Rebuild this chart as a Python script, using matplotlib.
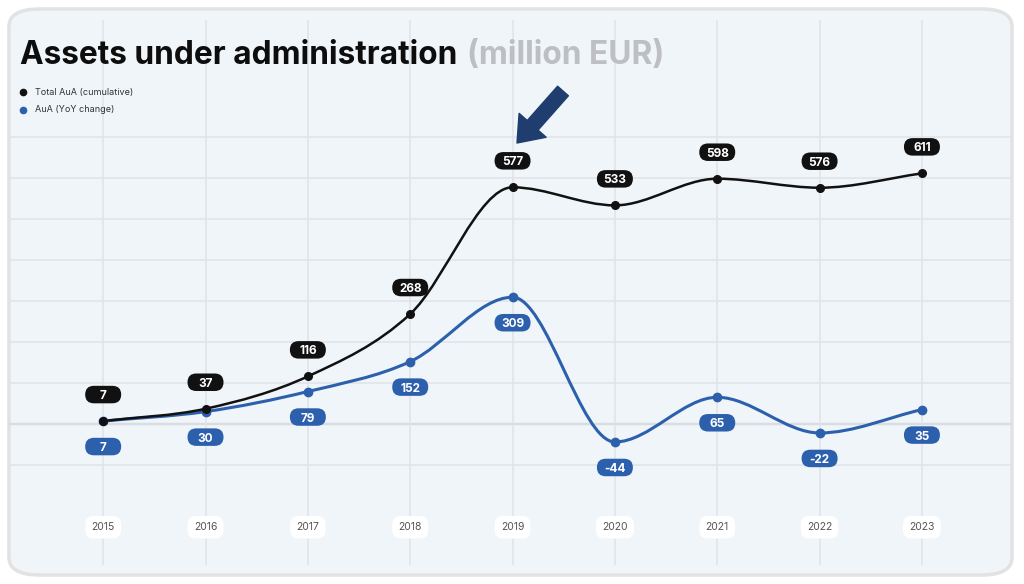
import numpy as np
import matplotlib.pyplot as plt
import matplotlib.transforms as mtransforms
from matplotlib.path import Path
from matplotlib.patches import PathPatch, FancyBboxPatch

# data
years = [2015, 2016, 2017, 2018, 2019, 2020, 2021, 2022, 2023]
total_aua = [7, 37, 116, 268, 577, 533, 598, 576, 611]
yoy_change = [7, 30, 79, 152, 309, -44, 65, -22, 35]
series_names = ['Total AuA (cumulative)', 'AuA (YoY change)']

BLACK = '#111111'
BLUE = '#2c60ad'
NAVY = '#1f3d6e'
CARD = '#eff5f9'


def monotone_path(xs, ys):
    # monotone cubic (Fritsch-Carlson) as bezier segments
    xs = np.asarray(xs, float)
    ys = np.asarray(ys, float)
    h = np.diff(xs)
    d = np.diff(ys) / h
    n = len(xs)
    m = np.zeros(n)
    m[0], m[-1] = d[0], d[-1]
    for k in range(1, n - 1):
        if d[k - 1] * d[k] <= 0:
            m[k] = 0
        else:
            m[k] = (d[k - 1] + d[k]) / 2
    for k in range(n - 1):
        if d[k] == 0:
            m[k] = m[k + 1] = 0
            continue
        a, b = m[k] / d[k], m[k + 1] / d[k]
        s = a * a + b * b
        if s > 9:
            t = 3 / np.sqrt(s)
            m[k] = t * a * d[k]
            m[k + 1] = t * b * d[k]
    verts = [(xs[0], ys[0])]
    codes = [Path.MOVETO]
    for k in range(n - 1):
        verts += [(xs[k] + h[k] / 3, ys[k] + m[k] * h[k] / 3),
                  (xs[k + 1] - h[k] / 3, ys[k + 1] - m[k + 1] * h[k] / 3),
                  (xs[k + 1], ys[k + 1])]
        codes += [Path.CURVE4] * 3
    return Path(verts, codes)


def pill(ax, x, v, dy, color, w=0.36, h=0.175):
    # capsule sized in inches, anchored at the data point
    trans = fig.dpi_scale_trans + mtransforms.ScaledTranslation(x, v, ax.transData)
    ax.add_patch(FancyBboxPatch((-w / 2, dy - h / 2), w, h,
                                boxstyle='round,pad=0,rounding_size=%f' % (h / 2),
                                transform=trans, fc=color, ec='none', zorder=7))
    ax.annotate(str(v), (x, v), xytext=(0, dy * 72), textcoords='offset points',
                ha='center', va='center_baseline', color='white', fontsize=8.5,
                fontweight='bold', zorder=8)


plt.rcParams['font.family'] = ['Inter', 'DejaVu Sans']
fig = plt.figure(figsize=(10.24, 5.84), dpi=100, facecolor='white')

W, H = 1024, 584
card = FancyBboxPatch((9 / W, 9 / H), 1003 / W, 566 / H,
                      boxstyle='round,pad=0,rounding_size=0.03',
                      transform=fig.transFigure, facecolor=CARD,
                      edgecolor='#e2e2e2', linewidth=2.5, zorder=-1)
fig.patches.append(card)

# axes: px x 8..1012, y 20..565
ax = fig.add_axes([8 / W, (H - 565) / H, 1004 / W, 545 / H])
ax.set_facecolor('none')
ax.set_xlim(2014.07, 2023.88)
ax.set_ylim(-344, 985)
for s in ax.spines.values():
    s.set_visible(False)
ax.set_yticks(range(-100, 800, 100))
ax.set_xticks(years)
ax.tick_params(length=0, labelleft=False, labelbottom=False)
ax.grid(True, color='#e0e4e8', linewidth=1.1)
ax.axhline(0, color='#c4c6c8', linewidth=1.6, zorder=1)

ax.add_patch(PathPatch(monotone_path(years, yoy_change), facecolor='none',
                       edgecolor=BLUE, linewidth=2.2, zorder=3))
ax.add_patch(PathPatch(monotone_path(years, total_aua), facecolor='none',
                       edgecolor=BLACK, linewidth=1.8, zorder=4))
ax.plot(years, yoy_change, 'o', color=BLUE, markersize=6, zorder=5)
ax.plot(years, total_aua, 'o', color=BLACK, markersize=5.5, zorder=6)

for x, v in zip(years, total_aua):
    pill(ax, x, v, 0.265, BLACK)
for x, v in zip(years, yoy_change):
    pill(ax, x, v, -0.255, BLUE)

for x in years:
    ax.text(x, -252, str(x), ha='center', va='center', fontsize=7.5,
            color='#555555', zorder=7,
            bbox=dict(boxstyle='round,pad=0.6,rounding_size=0.8',
                      fc='white', ec='none'))

# title
t1 = fig.text(20 / W, 1 - 56 / H, 'Assets under administration',
              fontsize=22.8, fontweight='bold', color='#0d0d0d', va='center')
fig.canvas.draw()
bb = t1.get_window_extent()
fig.text(bb.x1 / W + 10 / W, 1 - 56 / H, '(million EUR)', fontsize=22.8,
         fontweight='bold', color='#bdbfc2', va='center')

# legend
for i, (name, c) in enumerate(zip(series_names, [BLACK, BLUE])):
    y = 1 - (92 + 18 * i) / H
    fig.lines.append(plt.Line2D([23 / W], [y], marker='o', color=c,
                                markersize=4.5, transform=fig.transFigure))
    fig.text(35 / W, y, name, fontsize=6.5, color='#333333', va='center')

# arrow pointing at 2019
ax.annotate('', xy=(517, H - 143), xycoords='figure pixels',
            xytext=(563, H - 91), textcoords='figure pixels',
            arrowprops=dict(arrowstyle='simple,head_length=0.85,head_width=1.3,tail_width=0.52',
                            mutation_scale=20, color=NAVY,
                            shrinkA=0, shrinkB=0), zorder=8)

fig.savefig('out.png', dpi=100, facecolor='white')
